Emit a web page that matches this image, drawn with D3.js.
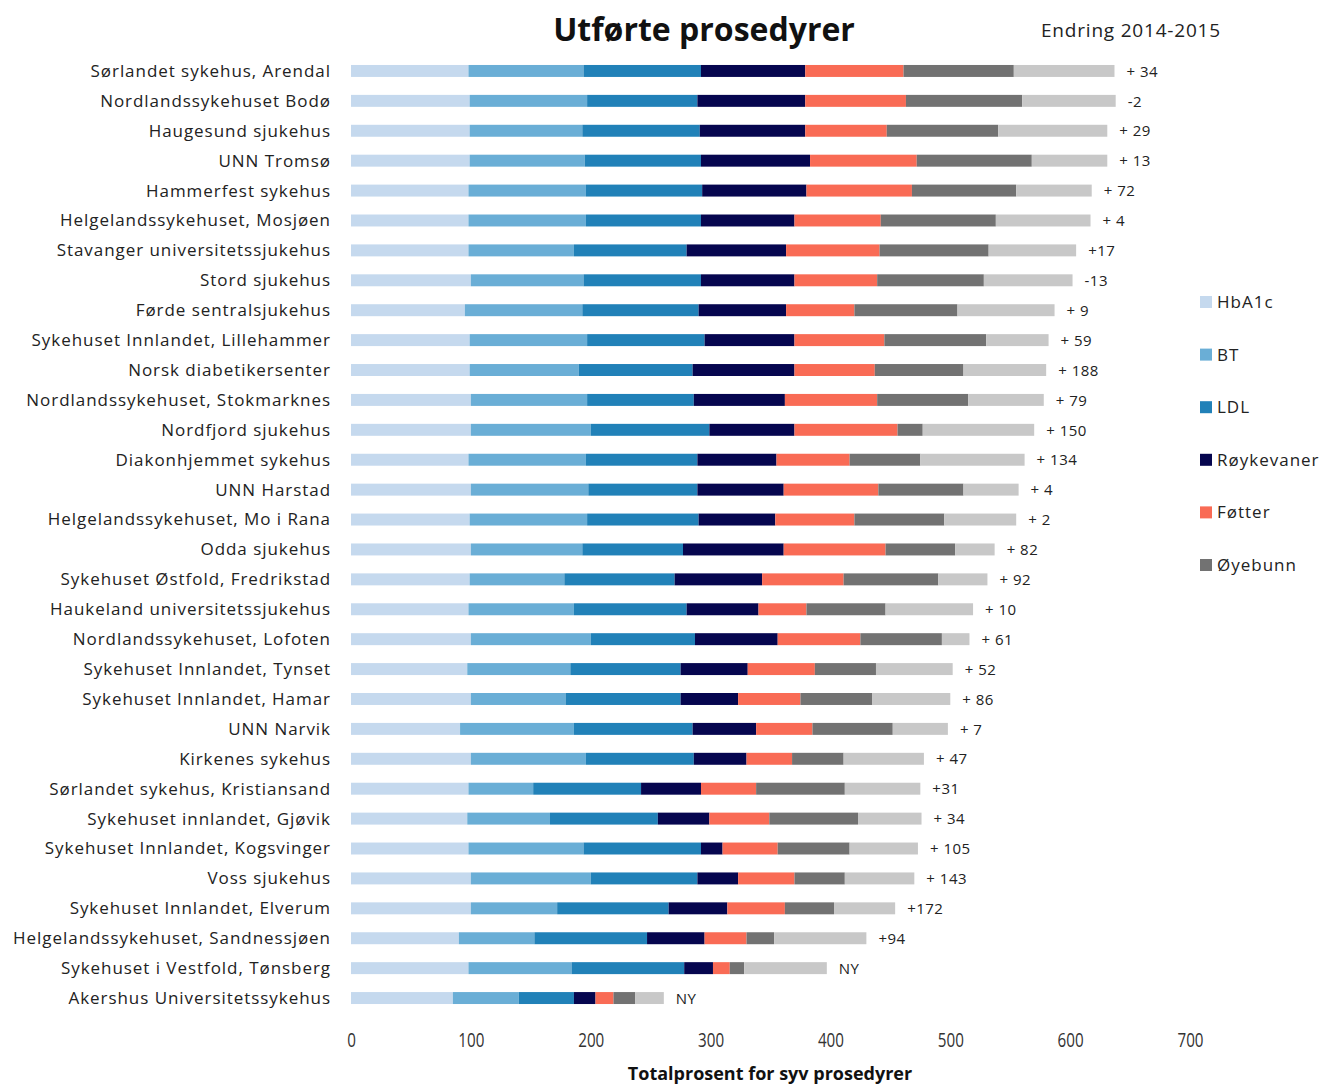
<!DOCTYPE html>
<html>
<head>
<meta charset="utf-8">
<script src="https://cdn.jsdelivr.net/npm/d3@7"></script>
<style>
  html, body { margin: 0; padding: 0; background: #ffffff; }
  svg { display: block; }
</style>
</head>
<body>
<svg id="chart" width="1324" height="1084"></svg>
<script>
const hospitals = [
  "Sørlandet sykehus, Arendal",
  "Nordlandssykehuset Bodø",
  "Haugesund sjukehus",
  "UNN Tromsø",
  "Hammerfest sykehus",
  "Helgelandssykehuset, Mosjøen",
  "Stavanger universitetssjukehus",
  "Stord sjukehus",
  "Førde sentralsjukehus",
  "Sykehuset Innlandet, Lillehammer",
  "Norsk diabetikersenter",
  "Nordlandssykehuset, Stokmarknes",
  "Nordfjord sjukehus",
  "Diakonhjemmet sykehus",
  "UNN Harstad",
  "Helgelandssykehuset, Mo i Rana",
  "Odda sjukehus",
  "Sykehuset Østfold, Fredrikstad",
  "Haukeland universitetssjukehus",
  "Nordlandssykehuset, Lofoten",
  "Sykehuset Innlandet, Tynset",
  "Sykehuset Innlandet, Hamar",
  "UNN Narvik",
  "Kirkenes sykehus",
  "Sørlandet sykehus, Kristiansand",
  "Sykehuset innlandet, Gjøvik",
  "Sykehuset Innlandet, Kogsvinger",
  "Voss sjukehus",
  "Sykehuset Innlandet, Elverum",
  "Helgelandssykehuset, Sandnessjøen",
  "Sykehuset i Vestfold, Tønsberg",
  "Akershus Universitetssykehus"
];

const hba1c      = [98, 99, 99, 99, 98, 98, 98, 100, 95, 99, 99, 100, 100, 98, 100, 99, 100, 99, 98, 100, 97, 100, 91, 100, 98, 97, 98, 100, 100, 90, 98, 85];
const bt         = [96, 98, 94, 96, 98, 98, 88, 94, 98, 98, 91, 97, 100, 98, 98, 98, 93, 79, 88, 100, 86, 79, 95, 96, 54, 69, 96, 100, 72, 63, 86, 55];
const ldl        = [98, 92, 98, 97, 97, 96, 94, 98, 97, 98, 95, 89, 99, 93, 91, 93, 84, 92, 94, 87, 92, 96, 99, 90, 90, 90, 98, 89, 93, 94, 94, 46];
const royk       = [87, 90, 88, 91, 87, 78, 83, 78, 73, 75, 85, 76, 71, 66, 72, 64, 84, 73, 60, 69, 56, 48, 53, 44, 50, 43, 18, 34, 49, 48, 24, 18];
const fotter     = [82, 84, 68, 89, 88, 72, 78, 69, 57, 75, 67, 77, 86, 61, 79, 66, 85, 68, 40, 69, 56, 52, 47, 38, 46, 50, 46, 47, 48, 35, 14, 15];
const oyebunn    = [92, 97, 93, 96, 87, 96, 91, 89, 86, 85, 74, 76, 21, 59, 71, 75, 58, 79, 66, 68, 51, 60, 67, 43, 74, 74, 60, 42, 41, 23, 12, 18];
const grey7      = [84, 78, 91, 63, 63, 79, 73, 74, 81, 52, 69, 63, 93, 87, 46, 60, 33, 41, 73, 23, 64, 65, 46, 67, 63, 53, 57, 58, 51, 77, 69, 24];
const changes    = ["+ 34", "-2", "+ 29", "+ 13", "+ 72", "+ 4", "+17", "-13", "+ 9", "+ 59", "+ 188", "+ 79", "+ 150", "+ 134", "+ 4", "+ 2", "+ 82", "+ 92", "+ 10", "+ 61", "+ 52", "+ 86", "+ 7", "+ 47", "+31", "+ 34", "+ 105", "+ 143", "+172", "+94", "NY", "NY"];

const seriesNames = ["HbA1c", "BT", "LDL", "Røykevaner", "Føtter", "Øyebunn", "Øvrig"];
const legendNames = ["HbA1c", "BT", "LDL", "Røykevaner", "Føtter", "Øyebunn"];
const colors = ["#c5d9ee", "#6aaed6", "#2181b8", "#06064f", "#f96b55", "#727272", "#c8c8c8"];
const xTicks = [0, 100, 200, 300, 400, 500, 600, 700];

const title = "Utførte prosedyrer";
const subtitle = "Endring  2014-2015";
const xTitle = "Totalprosent for syv prosedyrer";

const seriesArrays = [hba1c, bt, ldl, royk, fotter, oyebunn, grey7];
const table = hospitals.map((h, i) => {
  const row = { name: h, change: changes[i] };
  seriesNames.forEach((s, k) => row[s] = seriesArrays[k][i]);
  return row;
});

const svg = d3.select("#chart");

const x = d3.scaleLinear().domain([0, 700]).range([351, 1190]);
const y = d3.scaleBand().domain(hospitals).range([56, 1013]).paddingInner(0.6).paddingOuter(0.3);

const stacked = d3.stack().keys(seriesNames)(table);

svg.append("g").selectAll("g.series")
  .data(stacked)
  .join("g")
  .attr("class", "series")
  .attr("fill", (d, i) => colors[i])
  .selectAll("rect")
  .data(d => d)
  .join("rect")
  .attr("x", d => x(d[0]))
  .attr("width", d => x(d[1]) - x(d[0]))
  .attr("y", d => y(d.data.name))
  .attr("height", y.bandwidth());

// category labels
svg.append("g").selectAll("text")
  .data(hospitals)
  .join("text")
  .attr("x", 331)
  .attr("y", d => y(d) + y.bandwidth() / 2)
  .attr("dy", "0.35em")
  .attr("text-anchor", "end")
  .attr("font-family", "'Open Sans', 'DejaVu Sans', sans-serif")
  .attr("font-size", 17)
  .attr("letter-spacing", "0.95px")
  .attr("fill", "#222")
  .text(d => d);

// change labels
svg.append("g").selectAll("text")
  .data(table)
  .join("text")
  .attr("x", d => x(d3.sum(seriesNames, s => d[s])) + 12)
  .attr("y", d => y(d.name) + y.bandwidth() / 2)
  .attr("dy", "0.38em")
  .attr("font-family", "'Open Sans', 'DejaVu Sans', sans-serif")
  .attr("font-size", 15)
  .attr("letter-spacing", "0.5px")
  .attr("fill", "#222")
  .text(d => d.change);

// x axis
const xAxis = d3.axisBottom(x).tickValues(xTicks).tickSize(0).tickPadding(0).tickFormat(d3.format("d"));
const gx = svg.append("g").attr("transform", "translate(0,1033)").call(xAxis);
gx.select(".domain").remove();
gx.selectAll("text")
  .attr("font-family", "'Open Sans', sans-serif")
  .attr("font-size", 20)
  .attr("transform", "scale(0.76,1)")
  .attr("fill", "#333");

svg.append("text")
  .attr("x", 770).attr("y", 1080)
  .attr("text-anchor", "middle")
  .attr("font-family", "'Open Sans', sans-serif")
  .attr("font-weight", "bold")
  .attr("font-size", 18)
  .attr("fill", "#111")
  .text(xTitle);

svg.append("text")
  .attr("x", 704).attr("y", 41)
  .attr("text-anchor", "middle")
  .attr("font-family", "'Open Sans', sans-serif")
  .attr("font-weight", "bold")
  .attr("font-size", 32)
  .attr("fill", "#111")
  .text(title);

svg.append("text")
  .attr("x", 1041).attr("y", 37)
  .attr("font-family", "'Open Sans', sans-serif")
  .attr("font-size", 19)
  .attr("letter-spacing", "0.8px")
  .attr("fill", "#222")
  .text(subtitle);

// legend
const legend = svg.append("g").selectAll("g")
  .data(legendNames)
  .join("g")
  .attr("transform", (d, i) => `translate(1200, ${302 + i * 52.6})`);
legend.append("rect")
  .attr("x", 0).attr("y", -6).attr("width", 12).attr("height", 12)
  .attr("fill", (d, i) => colors[i]);
legend.append("text")
  .attr("x", 17).attr("y", 0).attr("dy", "0.35em")
  .attr("font-family", "'Open Sans', 'DejaVu Sans', sans-serif")
  .attr("font-size", 17)
  .attr("letter-spacing", "1px")
  .attr("fill", "#222")
  .text(d => d);
</script>
</body>
</html>
